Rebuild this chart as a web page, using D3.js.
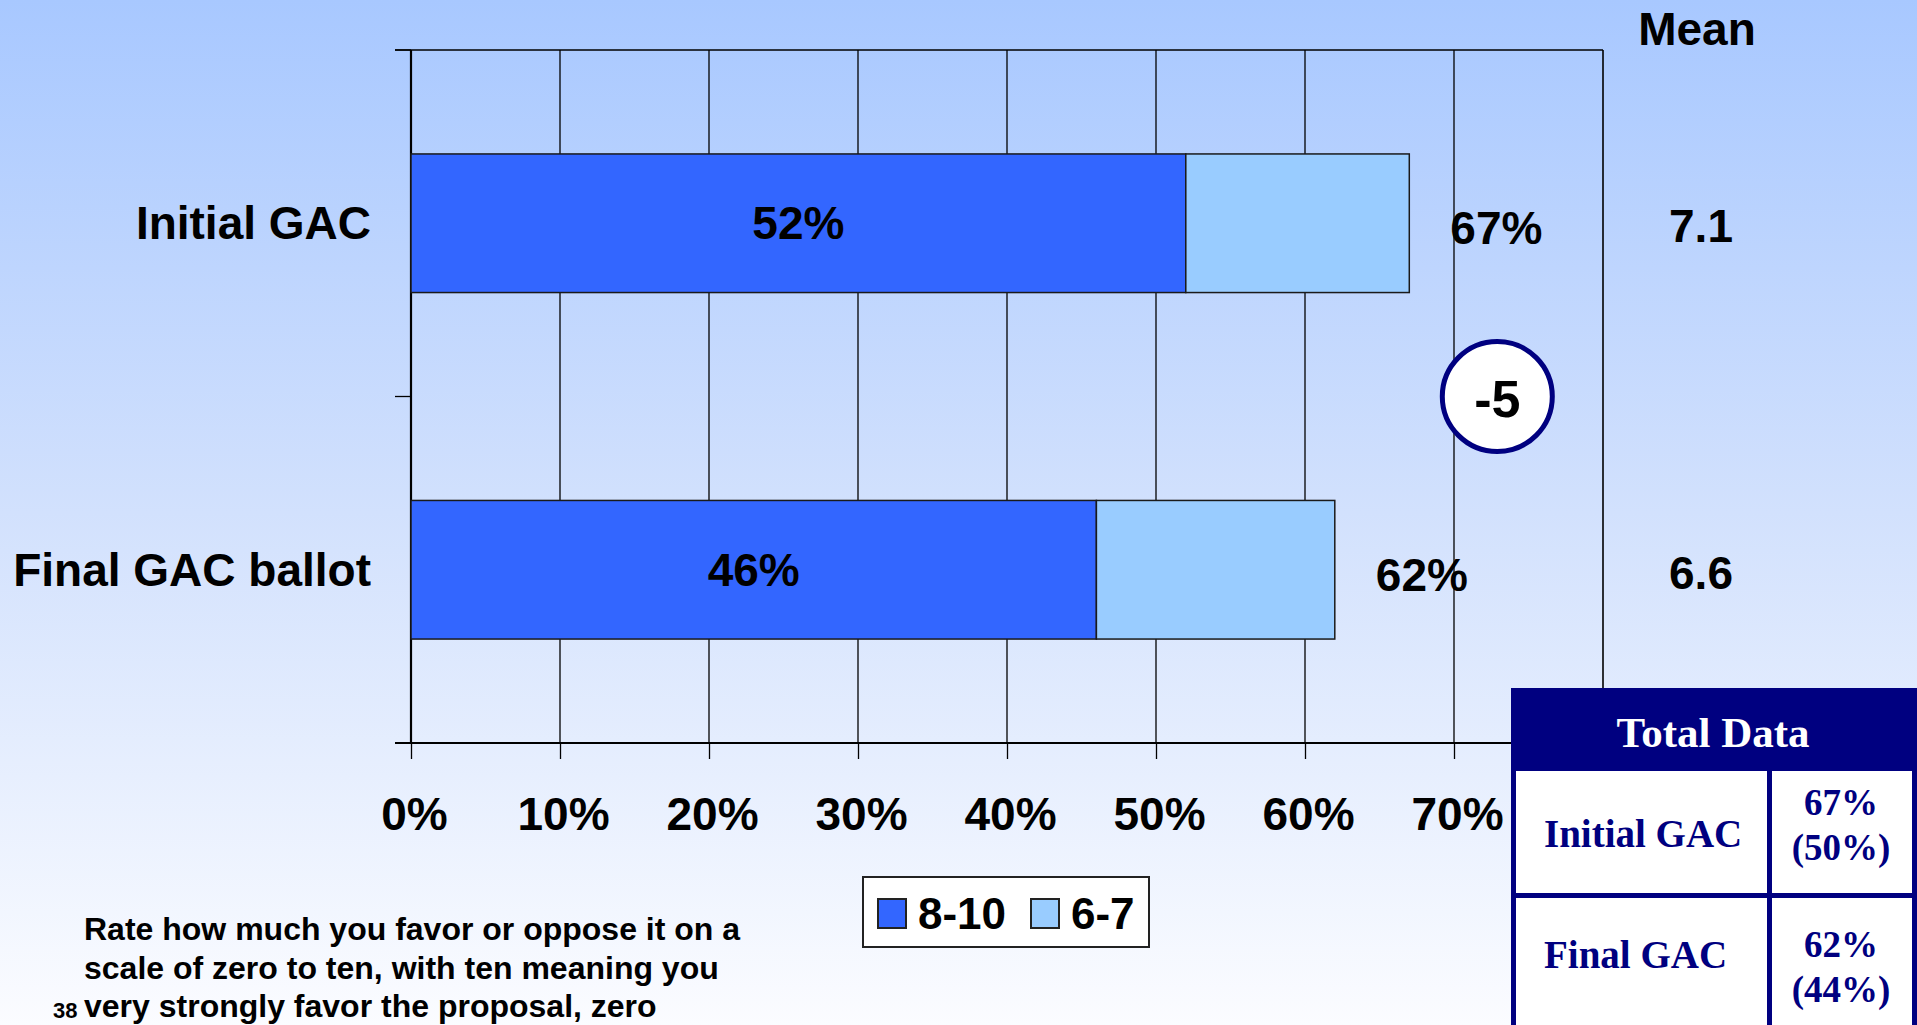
<!DOCTYPE html>
<html>
<head>
<meta charset="utf-8">
<script src="https://cdn.jsdelivr.net/npm/d3@7"></script>
<style>
  html, body { margin: 0; padding: 0; overflow: hidden; background: #fff; }
  svg { display: block; }
  text { font-family: "Liberation Sans", Arial, sans-serif; font-weight: bold; }
  .serif { font-family: "Liberation Serif", "Times New Roman", serif; }
</style>
</head>
<body>
<svg id="chart" width="1917" height="1025"></svg>
<script>
// ---------- data ----------
const categories = ["Initial GAC", "Final GAC ballot"];
const seriesNames = ["8-10", "6-7"];
const strongFavor = [52, 46];      // 8-10
const favor = [15, 16];            // 6-7
const totals = [67, 62];           // 8-10 + 6-7
const means = ["7.1", "6.6"];
const meanHeader = "Mean";
const diffLabel = "-5";
const xTicks = [0, 10, 20, 30, 40, 50, 60, 70];
const xMax = 80;
const tableTitle = "Total Data";
const tableLabels = ["Initial GAC", "Final GAC"];
const tableValues = ["67%", "62%"];
const tableSubValues = ["(50%)", "(44%)"];
const footnoteLines = [
  "Rate how much you favor or oppose it on a",
  "scale of zero to ten, with ten meaning you",
  "very strongly favor the proposal, zero"
];
const pageNumber = "38";

// ---------- setup ----------
const W = 1917, H = 1025;
const svg = d3.select("#chart");
const colors = ["#3366FF", "#99CCFF"];
const navy = "#000080";

const defs = svg.append("defs");
const grad = defs.append("linearGradient").attr("id", "bg")
  .attr("x1", 0).attr("y1", 0).attr("x2", 0).attr("y2", 1);
grad.append("stop").attr("offset", "0%").attr("stop-color", "#a8c8ff");
grad.append("stop").attr("offset", "50%").attr("stop-color", "#d2e1fd");
grad.append("stop").attr("offset", "100%").attr("stop-color", "#fbfcff");
svg.append("rect").attr("width", W).attr("height", H).attr("fill", "url(#bg)");

const plot = { left: 411, right: 1603, top: 50, bottom: 743 };
const x = d3.scaleLinear().domain([0, xMax]).range([plot.left, plot.right]);
const y = d3.scaleBand().domain(categories).range([plot.top, plot.bottom])
  .paddingInner(0.6).paddingOuter(0.3);
const bw = y.bandwidth();

// gridlines
svg.append("g").selectAll("line").data(xTicks.filter(d => d > 0)).join("line")
  .attr("x1", d => x(d)).attr("x2", d => x(d))
  .attr("y1", plot.top).attr("y2", plot.bottom)
  .attr("stroke", "#000").attr("stroke-width", 1.3);

// frame top & right
svg.append("line").attr("x1", plot.left - 16).attr("x2", x(xMax))
  .attr("y1", plot.top).attr("y2", plot.top).attr("stroke", "#000").attr("stroke-width", 1.6);
svg.append("line").attr("x1", x(xMax)).attr("x2", x(xMax))
  .attr("y1", plot.top).attr("y2", plot.bottom).attr("stroke", "#000").attr("stroke-width", 1.6);

// bottom axis
const xAxis = d3.axisBottom(x).tickValues(xTicks).tickFormat(d => d + "%")
  .tickSize(16).tickPadding(38);
const gx = svg.append("g").attr("transform", `translate(0,${plot.bottom})`).call(xAxis);
gx.select(".domain").remove();
gx.selectAll(".tick line").attr("stroke", "#000").attr("stroke-width", 1.3);
gx.selectAll(".tick text").attr("font-size", 46).attr("fill", "#000")
  .attr("font-family", "Liberation Sans, Arial, sans-serif").attr("font-weight", "bold")
  .attr("dx", 3);
svg.append("line").attr("x1", plot.left - 16).attr("x2", x(xMax))
  .attr("y1", plot.bottom).attr("y2", plot.bottom).attr("stroke", "#000").attr("stroke-width", 2.2);

// left axis (ticks at category boundaries)
const boundaries = [plot.top, (y(categories[0]) + bw + y(categories[1])) / 2, plot.bottom];
svg.append("g").selectAll("line").data(boundaries).join("line")
  .attr("x1", plot.left - 16).attr("x2", plot.left)
  .attr("y1", d => d).attr("y2", d => d)
  .attr("stroke", "#000").attr("stroke-width", 1.3);
svg.append("line").attr("x1", plot.left).attr("x2", plot.left)
  .attr("y1", plot.top).attr("y2", plot.bottom).attr("stroke", "#000").attr("stroke-width", 2.2);

// category labels
svg.append("g").selectAll("text").data(categories).join("text")
  .attr("x", plot.left - 40).attr("y", d => y(d) + bw / 2 + 16)
  .attr("text-anchor", "end").attr("font-size", 46).attr("fill", "#000")
  .text(d => d);

// stacked bars
const stackData = categories.map((c, i) => ({ cat: c, s0: strongFavor[i], s1: favor[i] }));
const stacked = d3.stack().keys(["s0", "s1"])(stackData);
svg.append("g").selectAll("g").data(stacked).join("g")
  .attr("fill", (d, i) => colors[i])
  .selectAll("rect").data(d => d).join("rect")
  .attr("x", d => x(d[0])).attr("width", d => x(d[1]) - x(d[0]))
  .attr("y", d => y(d.data.cat)).attr("height", bw)
  .attr("stroke", "#1a1a1a").attr("stroke-width", 1.5);

// inner labels
svg.append("g").selectAll("text").data(stackData).join("text")
  .attr("x", d => (x(0) + x(d.s0)) / 2).attr("y", d => y(d.cat) + bw / 2 + 16)
  .attr("text-anchor", "middle").attr("font-size", 46).attr("fill", "#000")
  .text(d => d.s0 + "%");

// total labels
svg.append("g").selectAll("text").data(categories).join("text")
  .attr("x", (d, i) => x(totals[i]) + 41).attr("y", d => y(d) + bw / 2 + 21)
  .attr("font-size", 46).attr("fill", "#000")
  .text((d, i) => totals[i] + "%");

// mean column
svg.append("text").attr("x", 1697).attr("y", 45).attr("text-anchor", "middle")
  .attr("font-size", 46).attr("fill", "#000").text(meanHeader);
svg.append("g").selectAll("text").data(categories).join("text")
  .attr("x", 1701).attr("y", d => y(d) + bw / 2 + 19)
  .attr("text-anchor", "middle").attr("font-size", 46).attr("fill", "#000")
  .text((d, i) => means[i]);

// difference circle
const cx = x(totals[0]) + 88, cy = boundaries[1];
svg.append("circle").attr("cx", cx).attr("cy", cy).attr("r", 55)
  .attr("fill", "#fff").attr("stroke", navy).attr("stroke-width", 5);
svg.append("text").attr("x", cx).attr("y", cy + 20).attr("text-anchor", "middle")
  .attr("font-size", 52).attr("fill", "#000").text(diffLabel);

// legend
const lg = svg.append("g");
lg.append("rect").attr("x", 863).attr("y", 877).attr("width", 286).attr("height", 70)
  .attr("fill", "#fff").attr("stroke", "#222").attr("stroke-width", 2);
const legendX = [878, 1031];
seriesNames.forEach((n, i) => {
  lg.append("rect").attr("x", legendX[i]).attr("y", 899).attr("width", 28).attr("height", 29)
    .attr("fill", colors[i]).attr("stroke", "#222").attr("stroke-width", 2);
  lg.append("text").attr("x", legendX[i] + 40).attr("y", 929)
    .attr("font-size", 44).attr("fill", "#000").text(n);
});

// footnote
svg.append("g").selectAll("text").data(footnoteLines).join("text")
  .attr("x", 84).attr("y", (d, i) => 940 + i * 38.5)
  .attr("font-size", 32).attr("fill", "#000").text(d => d);
svg.append("text").attr("x", 53).attr("y", 1018).attr("font-size", 22)
  .attr("fill", "#000").text(pageNumber);

// data table
const tb = svg.append("g");
tb.append("rect").attr("x", 1511).attr("y", 688).attr("width", W - 1511 + 5).attr("height", H - 688 + 10)
  .attr("fill", navy);
const rowTop = [771, 898], rowBot = [893, 1040];
const colL = [1516, 1772], colR = [1767, 1912];
rowTop.forEach((rt, r) => {
  colL.forEach((cl, c) => {
    tb.append("rect").attr("x", cl).attr("y", rt).attr("width", colR[c] - cl)
      .attr("height", rowBot[r] - rt).attr("fill", "#fff");
  });
});
tb.append("text").attr("class", "serif").attr("x", 1713).attr("y", 747)
  .attr("text-anchor", "middle").attr("font-size", 43).attr("fill", "#fff").text(tableTitle);
const labelBase = [847, 968];
tableLabels.forEach((t, i) => {
  tb.append("text").attr("class", "serif").attr("x", 1544).attr("y", labelBase[i])
    .attr("font-size", 39).attr("fill", navy).text(t);
});
const valBase = [815, 957];
tableValues.forEach((t, i) => {
  tb.append("text").attr("class", "serif").attr("x", 1841).attr("y", valBase[i])
    .attr("text-anchor", "middle").attr("font-size", 37).attr("fill", navy).text(t);
  tb.append("text").attr("class", "serif").attr("x", 1841).attr("y", valBase[i] + 45)
    .attr("text-anchor", "middle").attr("font-size", 37).attr("fill", navy).text(tableSubValues[i]);
});
</script>
</body>
</html>
